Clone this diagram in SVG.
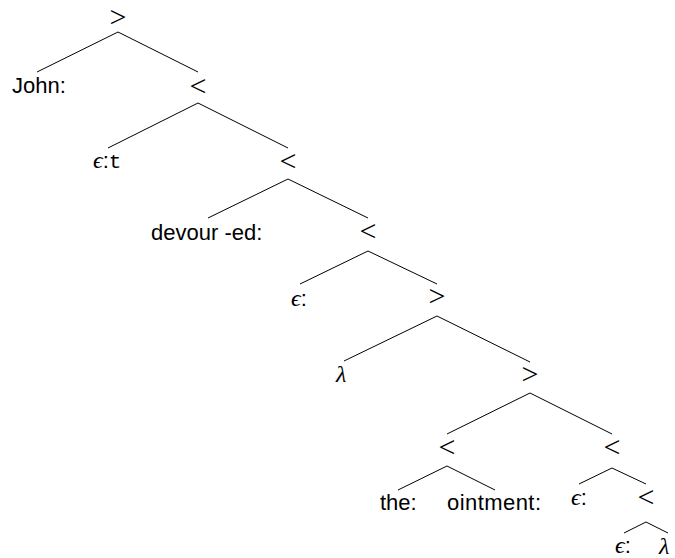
<svg xmlns="http://www.w3.org/2000/svg" width="675" height="558" viewBox="0 0 675 558">
<style>
.t{font-family:"Liberation Sans",Arial,sans-serif;font-size:22px;fill:#000}
.m{font-family:"Liberation Serif","Times New Roman",serif;font-style:italic;font-size:24px;fill:#000}
.op{font-family:"Liberation Serif","Times New Roman",serif;font-size:30px;fill:#000;text-anchor:middle}
.tt{font-family:"Liberation Mono","Courier New",monospace;font-size:21px}
.e line{stroke:#000;stroke-width:1;fill:none}
</style>
<rect width="675" height="558" fill="#fff"/>
<g class="e" id="connectors">
<line x1="118" y1="32" x2="37" y2="72"/>
<line x1="118" y1="32" x2="198" y2="72"/>
<line x1="198" y1="103" x2="108" y2="148"/>
<line x1="198" y1="103" x2="288" y2="148"/>
<line x1="288" y1="179" x2="208" y2="218"/>
<line x1="288" y1="179" x2="368" y2="218"/>
<line x1="368" y1="251" x2="300" y2="284"/>
<line x1="368" y1="251" x2="437" y2="284"/>
<line x1="437" y1="316" x2="344" y2="361"/>
<line x1="437" y1="316" x2="530" y2="362"/>
<line x1="530" y1="393" x2="447" y2="434"/>
<line x1="530" y1="393" x2="612" y2="434"/>
<line x1="447" y1="466" x2="398" y2="490"/>
<line x1="447" y1="466" x2="495" y2="490"/>
<line x1="612" y1="468" x2="579" y2="484"/>
<line x1="612" y1="468" x2="646" y2="484"/>
<line x1="646" y1="522" x2="624" y2="533"/>
<line x1="646" y1="522" x2="668" y2="533"/>
</g>
<g id="n1"><text class="op" x="118" y="27">&gt;</text></g>
<g id="n2"><text class="t" x="12" y="93">John:</text></g>
<g id="n3"><text class="op" x="198" y="96">&lt;</text></g>
<g id="n4"><text class="t" x="93" y="168"><tspan class="m">ϵ</tspan>:<tspan class="tt">t</tspan></text></g>
<g id="n5"><text class="op" x="288" y="171">&lt;</text></g>
<g id="n6"><text class="t" x="151" y="240">devour -ed:</text></g>
<g id="n7"><text class="op" x="368" y="241">&lt;</text></g>
<g id="n8"><text class="t" x="291" y="306"><tspan class="m">ϵ</tspan>:</text></g>
<g id="n9"><text class="op" x="437" y="306">&gt;</text></g>
<g id="n10"><text class="m" x="336" y="382">λ</text></g>
<g id="n11"><text class="op" x="530" y="384">&gt;</text></g>
<g id="n12"><text class="op" x="447" y="457">&lt;</text></g>
<g id="n13"><text class="op" x="612" y="457">&lt;</text></g>
<g id="n14"><text class="t" x="380" y="510">the:</text></g>
<g id="n15"><text class="t" x="447" y="510" textLength="94">ointment:</text></g>
<g id="n16"><text class="t" x="571" y="505"><tspan class="m">ϵ</tspan>:</text></g>
<g id="n17"><text class="op" x="646" y="507">&lt;</text></g>
<g id="n18"><text class="t" x="615" y="553"><tspan class="m">ϵ</tspan>:</text></g>
<g id="n19"><text class="m" x="659" y="554">λ</text></g>
</svg>
